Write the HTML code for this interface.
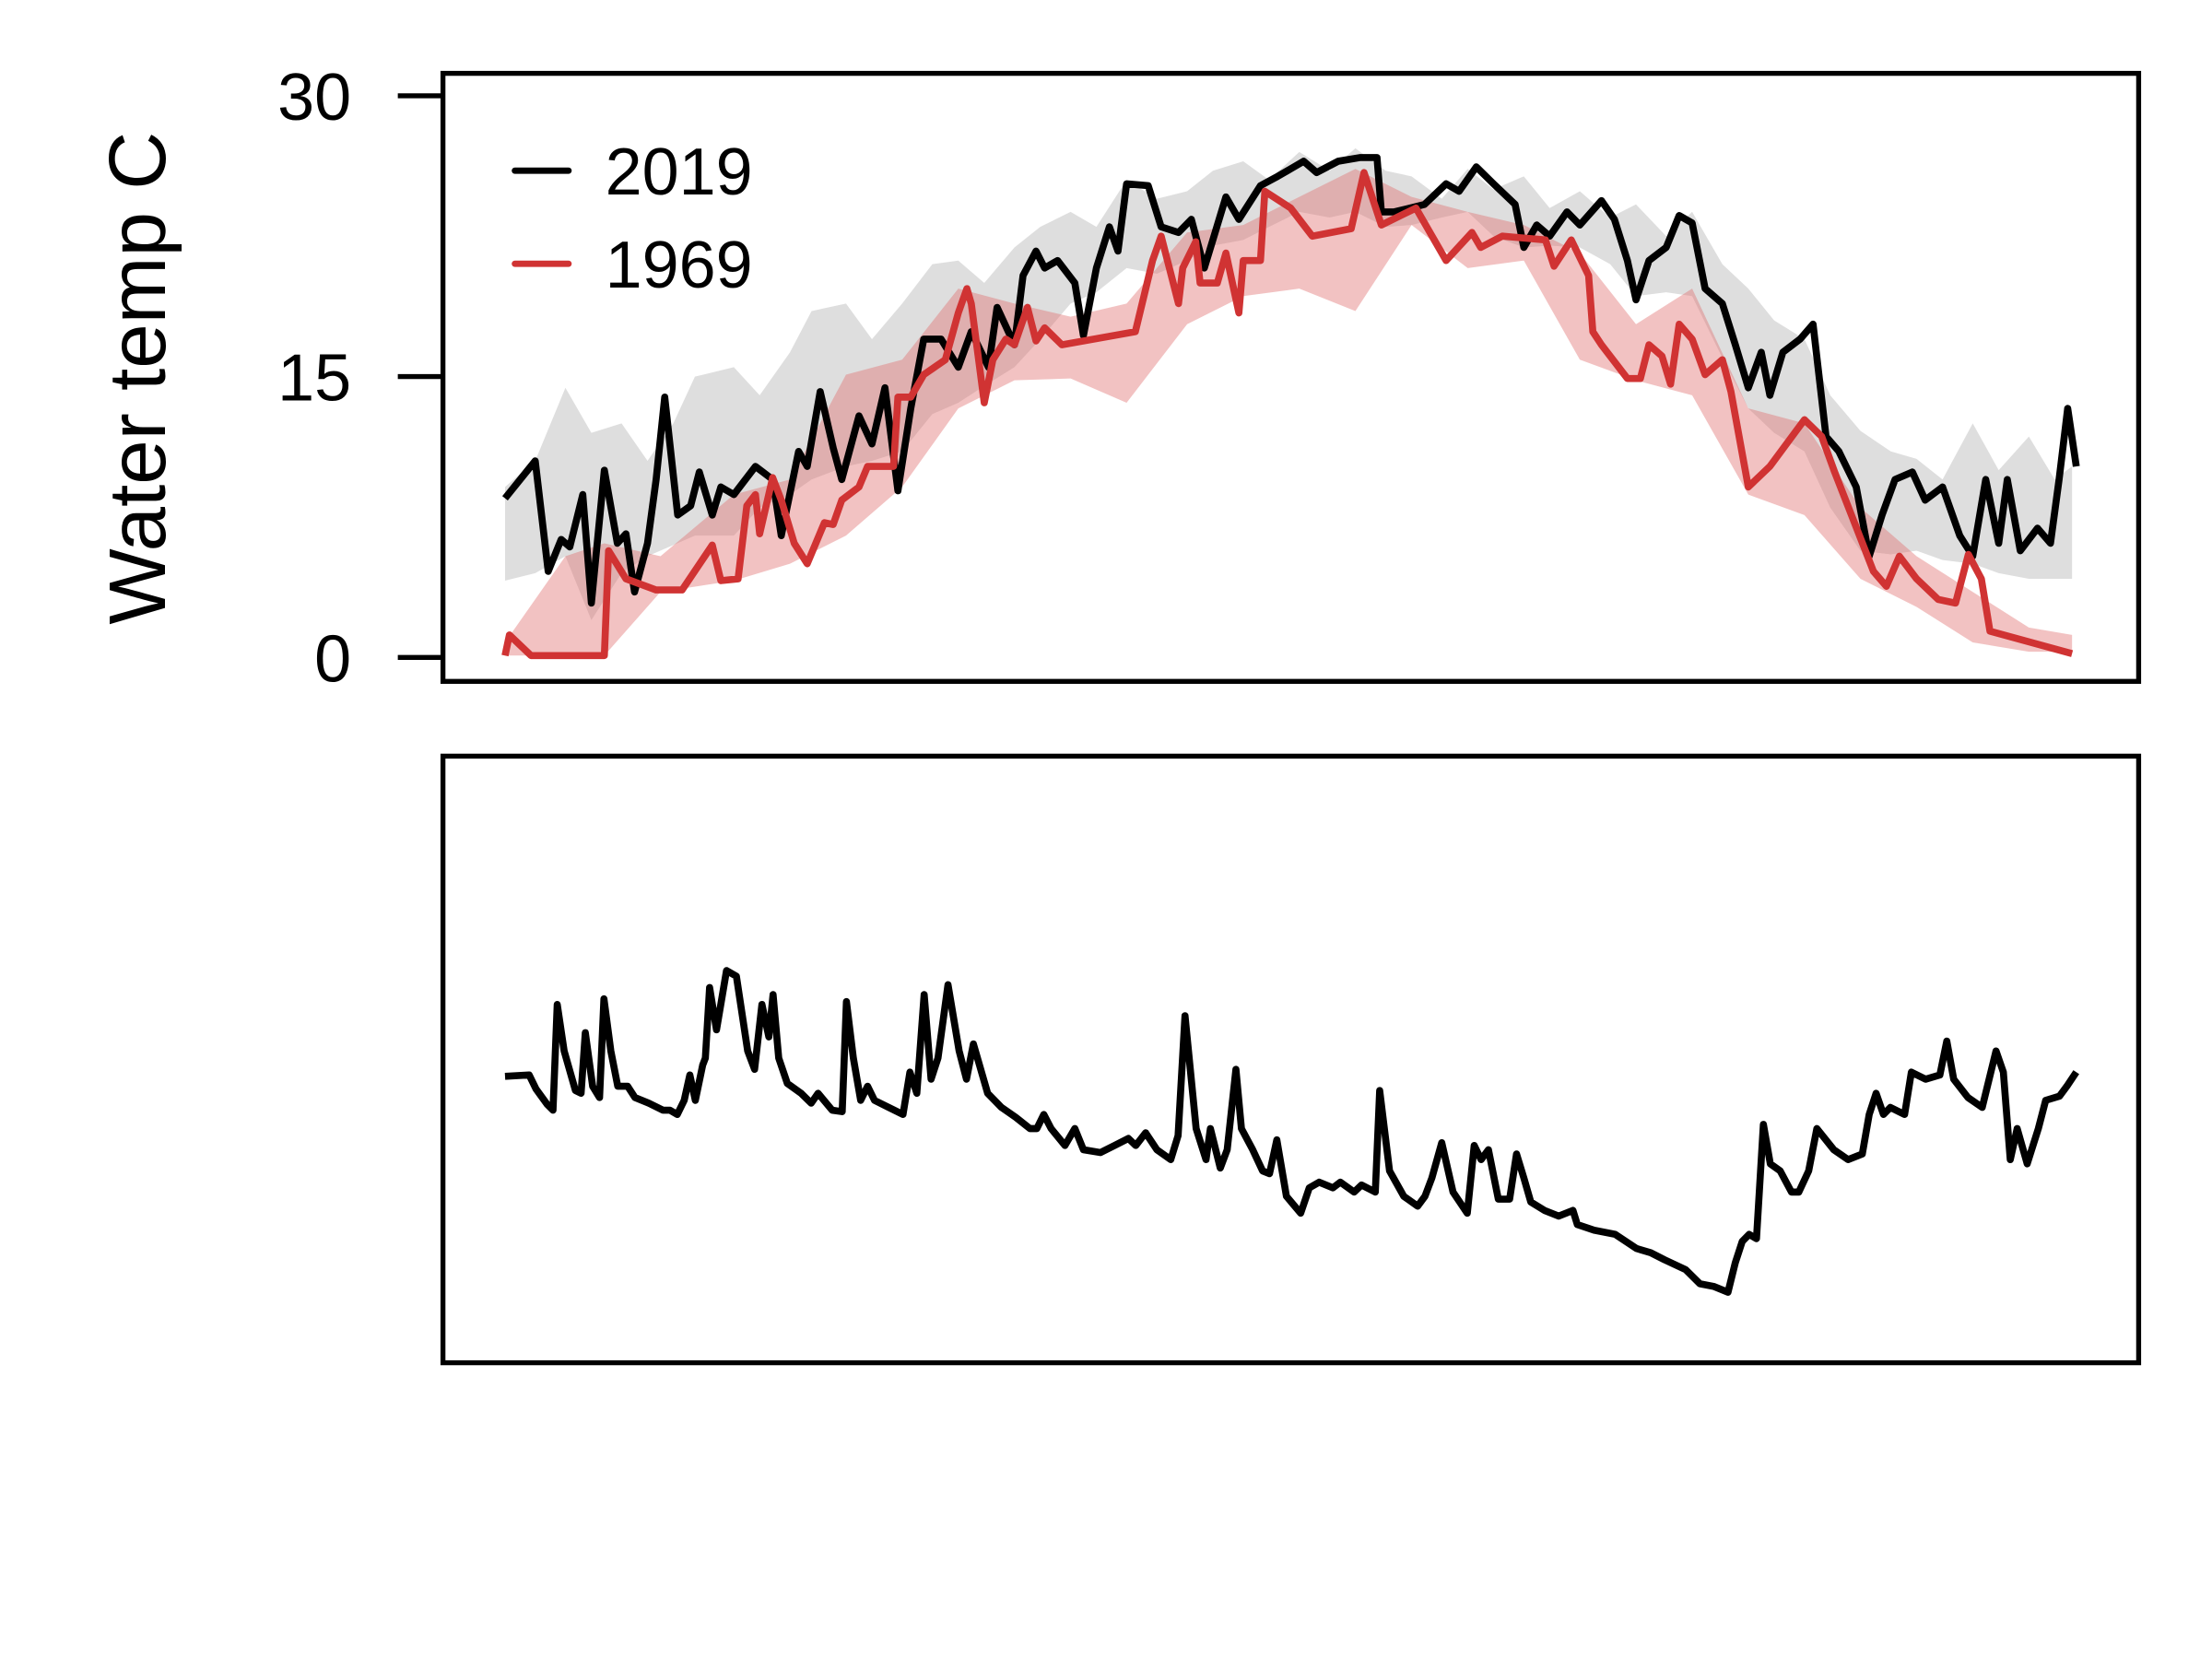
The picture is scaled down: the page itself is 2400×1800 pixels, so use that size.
<!DOCTYPE html>
<html><head><meta charset="utf-8"><style>html,body{margin:0;padding:0;background:#fff}svg{display:block}</style></head>
<body>
<svg id="chart" xmlns="http://www.w3.org/2000/svg" width="2400" height="1800" viewBox="0 0 1568 1176" font-family="Liberation Sans, sans-serif">
<rect x="0" y="0" width="1568" height="1176" fill="#fff"/>
<g id="topPanel"></g>
<g id="bottomPanel"></g>
</svg>
<script>
// 2019 water temperature (day of year, °C)
const days2019 = [1,8,11,14,16,19,21,24,27,29,31,34,36,38,41,44,46,49,51,54,59,63,65,69,71,74,77,79,83,86,89,92,95,98,102,106,109,113,115,119,121,124,126,129,133,135,138,141,143,145,150,153,157,160,163,168,171,176,180,183,186,189,194,199,203,204,207,214,219,222,226,230,235,237,240,243,247,250,255,258,261,263,266,270,273,276,279,283,286,289,292,294,297,301,304,307,310,314,317,320,323,327,330,334,338,341,344,347,349,352,356,359,361,363,365];
const temp2019 = [8.5,10.5,4.6,6.3,5.9,8.7,2.9,10,6.1,6.6,3.5,6.1,9.5,13.9,7.6,8.1,9.9,7.6,9.1,8.7,10.2,9.5,6.5,11,10.2,14.2,11.2,9.5,12.9,11.4,14.4,8.9,13.3,17,17,15.5,17.4,15.5,18.7,16.7,20.4,21.7,20.8,21.2,20,17.2,20.8,23,21.7,25.3,25.2,23,22.7,23.4,20.8,24.6,23.4,25.2,25.7,26.1,26.5,25.9,26.5,26.7,26.7,23.8,23.8,24.2,25.3,24.9,26.2,25.3,24.2,21.9,23.1,22.5,23.8,23.1,24.4,23.4,21.2,19.1,21.2,21.9,23.6,23.2,19.7,18.9,16.7,14.4,16.3,14,16.3,17,17.8,11.8,11,9.1,5.4,7.6,9.5,9.9,8.4,9.1,6.5,5.4,9.5,6.1,9.5,5.7,6.9,6.1,9.5,13.3,10.2];
// 1969 water temperature
const days1969 = [1,2,7,24,25,29,36,42,49,51,55,57,59,60,63,65,68,71,75,77,79,83,85,87,91,92,95,98,103,106,108,109,112,114,117,119,122,124,126,130,147,149,151,153,157,158,161,162,166,168,171,172,176,177,183,188,197,200,204,212,219,225,227,232,242,244,248,252,253,255,261,264,266,269,271,273,276,279,283,285,289,294,302,306,309,318,321,324,328,333,337,340,343,345,364];
const temp1969 = [0.1,1.2,0.1,0.1,5.7,4.2,3.6,3.6,6,4.1,4.2,8.1,8.7,6.6,9.6,8.4,6.1,5,7.2,7.1,8.4,9.1,10.2,10.2,10.2,13.9,13.9,15.1,15.9,18.4,19.7,18.9,13.6,15.9,17,16.7,18.7,16.9,17.6,16.7,17.4,19.3,21.2,22.5,18.9,20.8,22.2,20,20,21.6,18.4,21.2,21.2,24.9,24,22.5,22.9,25.9,23.1,24,21.2,22.7,21.9,22.5,22.3,20.9,22.3,20.4,17.4,16.7,14.9,14.9,16.7,16.1,14.6,17.8,17,15.1,15.9,14.2,9.1,10.2,12.7,11.8,9.9,4.6,3.8,5.4,4.2,3.1,2.9,5.5,4.2,1.4,0.2];
// grey band (range around 2019)
const greyDays = [1,8,15,21,28,34,40,45,54,60,67,72,80,86,93,100,106,112,119,125,132,138,145,152,159,165,172,178,185,192,198,205,211,218,224,230,237,243,250,257,263,270,276,283,289,295,302,308,315,322,328,334,341,347,354,360,364];
const greyHigh = [9.1,10.5,14.4,12.0,12.5,10.5,12.5,15.0,15.5,14.0,16.3,18.5,18.9,17.0,18.9,21.0,21.2,20.0,21.9,23.0,23.8,23.0,25.5,24.5,24.9,26.0,26.5,25.5,27.0,26.0,27.2,26.0,25.7,24.5,26.1,25.0,25.7,24.0,24.9,23.5,24.2,22.5,23.8,21.0,19.7,18.0,17.0,14.0,12.1,11.0,10.6,9.5,12.5,10.0,11.8,9.5,10.2];
const greyLow = [4.1,4.5,5.4,2.0,4.5,5.4,6.0,6.5,6.5,8.0,8.7,9.5,10.2,10.5,11.0,13.0,13.6,14.5,15.5,17.0,18.9,19.5,20.8,20.5,21.2,22.0,22.3,23.0,23.8,23.5,23.8,23.0,23.1,23.5,23.8,22.5,21.9,22.0,21.9,21.0,19.3,19.5,19.3,16.0,13.3,12.0,11.0,8.0,5.7,5.5,5.7,5.2,5.0,4.5,4.2,4.2,4.2];
// pink band (range around 1969)
const pinkDays = [1,15,24,37,54,67,80,93,106,119,132,145,159,172,185,198,211,224,237,250,263,276,289,302,315,328,341,354,364];
const pinkHigh = [0.8,5.4,6.1,5.4,8.7,9.5,15.1,15.9,19.7,18.9,18.2,18.9,22.7,23.1,24.6,26.1,24.6,23.8,23.1,21.6,17.8,19.7,13.3,12.5,8.0,5.4,3.5,1.6,1.2];
const pinkLow = [0.1,0.1,0.1,3.5,4.1,5.0,6.5,9.1,13.3,14.8,14.9,13.6,17.8,19.3,19.7,18.5,23.1,20.8,21.2,15.9,14.8,14.0,8.7,7.6,4.2,2.7,0.8,0.3,0.3];
// lower panel series (arbitrary units)
const daysLow = [1.0,6.6,8.2,10.8,12.1,13.1,14.7,17.3,18.6,19.6,21.3,22.9,23.9,25.5,27.1,29.4,31.1,34.3,37.6,39.2,40.9,42.5,43.8,45.1,46.8,47.4,48.4,50.0,52.3,54.6,57.2,58.8,60.5,62.1,63.1,64.4,66.4,69.6,71.9,73.5,76.8,79.1,80.1,81.7,83.4,85.0,86.6,89.9,93.2,94.8,96.4,98.1,99.7,101.3,103.6,106.2,107.9,109.5,112.8,116.0,119.3,122.6,124.2,125.8,127.5,130.7,133.0,135.0,138.9,142.2,145.4,147.1,149.4,152.0,155.2,156.9,158.5,161.1,163.4,164.4,166.7,168.3,170.3,171.6,174.2,176.5,178.1,179.8,182.0,185.3,187.3,189.6,192.8,194.5,197.7,199.4,202.6,203.6,205.9,209.2,212.4,214.1,215.7,218.0,220.6,223.9,225.5,227.1,228.8,231.1,233.7,235.3,237.0,238.6,241.8,245.1,248.4,249.4,253.3,258.2,263.1,266.4,269.6,274.5,277.8,281.1,284.3,286.0,287.6,289.2,290.9,292.5,294.1,296.4,299.0,300.7,303.0,304.9,308.8,312.1,315.4,317.0,318.6,320.3,321.9,325.2,326.8,330.1,333.4,335.0,336.6,339.9,343.2,344.8,346.4,348.1,349.7,351.3,353.6,356.2,357.9,361.1,362.8,365.0];
const valsLow = [15.7,15.8,14.8,13.7,13.3,20.8,17.5,14.7,14.5,18.8,15.0,14.2,21.2,17.5,15.0,15.0,14.2,13.8,13.3,13.3,13.0,14.0,15.8,14.0,16.5,17.0,22.0,19.0,23.2,22.8,17.5,16.2,20.8,18.5,21.5,17.0,15.2,14.5,13.8,14.5,13.3,13.2,21.0,17.0,14.0,15.0,14.0,13.5,13.0,16.0,14.5,21.5,15.5,17.0,22.2,17.5,15.5,18.0,14.5,13.5,12.8,12.0,12.0,13.0,12.0,10.8,12.0,10.5,10.3,10.8,11.3,10.8,11.7,10.5,9.8,11.5,20.0,12.0,9.8,12.0,9.2,10.5,16.2,12.0,10.5,9.0,8.8,11.2,7.2,6.0,7.8,8.2,7.8,8.2,7.5,8.0,7.5,14.7,9.0,7.2,6.5,7.2,8.5,11.0,7.5,6.0,10.8,9.8,10.5,7.0,7.0,10.2,8.5,6.8,6.2,5.8,6.2,5.2,4.8,4.5,3.5,3.2,2.7,2.0,1.0,0.8,0.4,2.5,4.0,4.5,4.2,12.3,9.5,9.0,7.5,7.5,9.0,12.0,10.5,9.8,10.2,13.0,14.5,13.0,13.5,13.0,16.0,15.5,15.8,18.2,15.5,14.2,13.5,15.5,17.5,16.0,9.8,12.0,9.5,12.0,14.0,14.3,15.0,16.0];
const yTicks = [0,15,30];
const legendLabels = ['2019','1969'];

const NS='http://www.w3.org/2000/svg';
const xs = d => 358 + (d-1)*3.06;
const yTop = v => 466 - v*13.27;
const yBot = v => 920 - v*10;
function mk(tag, parent, attrs){const e=document.createElementNS(NS,tag);for(const k in attrs)e.setAttribute(k,attrs[k]);parent.appendChild(e);return e;}
const topG=document.getElementById('topPanel'), botG=document.getElementById('bottomPanel');
function band(days,hi,lo,fill,name){
  let p=days.map((d,i)=>xs(d).toFixed(1)+','+yTop(hi[i]).toFixed(1));
  for(let i=days.length-1;i>=0;i--)p.push(xs(days[i]).toFixed(1)+','+yTop(lo[i]).toFixed(1));
  const e=mk('polygon',topG,{points:p.join(' '),fill:fill});
  
  
}
function line(parent,days,vals,ys,color,name){
  const e=mk('polyline',parent,{points:days.map((d,i)=>xs(d).toFixed(1)+','+ys(vals[i]).toFixed(1)).join(' '),fill:'none',stroke:color,'stroke-width':5,'stroke-linejoin':'round'});
  
  
}
band(greyDays,greyHigh,greyLow,'#dedede','range-band-2019');
band(pinkDays,pinkHigh,pinkLow,'rgba(225,110,110,0.42)','range-band-1969');
line(topG,days2019,temp2019,yTop,'#000','line-2019');
line(topG,days1969,temp1969,yTop,'#d03333','line-1969');
line(botG,daysLow,valsLow,yBot,'#000','lower-series-line');
let f=mk('rect',topG,{x:314,y:52,width:1202,height:431,fill:'none',stroke:'#000','stroke-width':3.5});


f=mk('rect',botG,{x:314,y:536,width:1202,height:430,fill:'none',stroke:'#000','stroke-width':3.5});


yTicks.forEach(t=>{
  const l=mk('line',topG,{x1:282,x2:314,y1:yTop(t),y2:yTop(t),stroke:'#000','stroke-width':3.5});
  
  
  const tx=mk('text',topG,{x:249,y:yTop(t)+17,'text-anchor':'end','font-size':47,fill:'#000'});
  tx.textContent=t;
  
  
});
const ti=mk('text',topG,{transform:'translate(117,268) rotate(-90)','text-anchor':'middle','font-size':57,fill:'#000'});
ti.textContent='Water temp C';


const lc=['#000','#d03333'];
legendLabels.forEach((lab,i)=>{
  const y=121+i*66;
  const l=mk('line',topG,{x1:365,x2:403,y1:y,y2:y,stroke:lc[i],'stroke-width':4.5,'stroke-linecap':'round'});
  
  
  const t=mk('text',topG,{x:429,y:y+17,'font-size':47,fill:'#000'});
  t.textContent=lab;
  
  
});
</script>
</body></html>
